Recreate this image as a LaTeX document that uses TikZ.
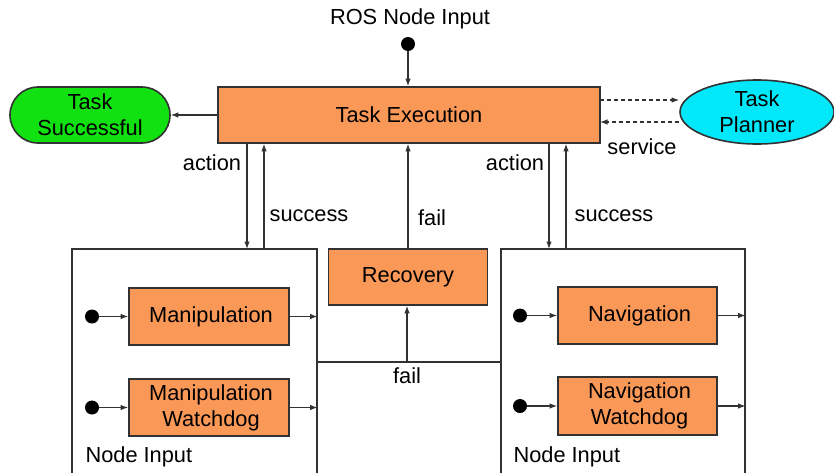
\documentclass[tikz,border=0pt]{standalone}
\usepackage{fontspec}
\setmainfont{Liberation Sans}
\usetikzlibrary{arrows.meta,shapes.geometric,calc}
\definecolor{boxorange}{RGB}{250,152,88}
\definecolor{okgreen}{RGB}{17,224,17}
\definecolor{plancyan}{RGB}{0,232,250}
\definecolor{edge}{RGB}{50,50,50}
\begin{document}
\begin{tikzpicture}[x=1pt,y=-1pt,
  every node/.style={font=\fontsize{21.8}{26}\selectfont, text=black},
  obox/.style={draw=edge, line width=1.6pt, fill=boxorange, align=center, inner sep=0pt},
  cont/.style={draw=edge, line width=1.2pt, inner sep=0pt},
  dot/.style={circle, fill=black, inner sep=0pt, minimum size=14pt},
  conn/.style={draw=edge, line width=1.2pt, -{Latex[length=7.5pt,width=5.5pt]}},
  dconn/.style={conn, dashed, dash pattern=on 4pt off 3pt},
  lbl/.style={inner sep=0pt}
]
\useasboundingbox (0,0) rectangle (834,472);

% main nodes
\node[obox, minimum width=382pt, minimum height=56pt] (te) at (409,115) {Task Execution};
\node[draw=edge, line width=1.6pt, fill=okgreen, rounded corners=28pt, align=center,
      minimum width=160pt, minimum height=56pt, inner sep=0pt] (ts) at (90,115) {Task\\Successful};
\node[ellipse, draw=edge, line width=1.6pt, fill=plancyan, align=center,
      minimum width=154pt, minimum height=64pt, inner sep=0pt] (tp) at (757,112) {Task\\Planner};
\node[obox, minimum width=159pt, minimum height=56pt] (rec) at (408,277) {Recovery};

% containers
\node[cont, minimum width=245pt, minimum height=251pt] (lbox) at (194.5,374.5) {};
\node[cont, minimum width=244pt, minimum height=251pt] (rbox) at (623,374.5) {};

% inner boxes
\node[obox, minimum width=160pt, minimum height=57pt] (man) at (209,316.5) {\hspace*{4pt}Manipulation};
\node[obox, minimum width=160pt, minimum height=57pt] (manw) at (209,407.5) {\hspace*{4pt}Manipulation\\\hspace*{4pt}Watchdog};
\node[obox, minimum width=159pt, minimum height=57pt] (nav) at (637.5,315.5) {\hspace*{4pt}Navigation};
\node[obox, minimum width=159pt, minimum height=58pt] (navw) at (637.5,406) {\hspace*{4pt}Navigation\\\hspace*{4pt}Watchdog};

% dots
\node[dot] (rosdot) at (408,44) {};
\node[dot] (d1) at (92,316.5) {};
\node[dot] (d2) at (92,407.5) {};
\node[dot] (d3) at (520,315.5) {};
\node[dot] (d4) at (520,406) {};

% texts
\node (rosin) at (410,19) {ROS Node Input};
\node[anchor=west] (ni1) at (82,457) {Node Input};
\node[anchor=west] (ni2) at (510,457) {Node Input};

% coordinates for connectors
\coordinate (la) at (247,249);
\coordinate (ls) at (264,249);
\coordinate (ra) at (549,249);
\coordinate (rs) at (566,249);
\coordinate (fj) at (407,362);
\coordinate (su) at (600,100);
\coordinate (sd) at (600,122);

% connectors
\draw[conn] (rosdot) -- (te.north -| rosdot);
\draw[conn] (te.west) -- (ts.east);
\draw[dconn] (su) -- (su -| tp.west);
\draw[dconn] (sd -| tp.west) -- (sd);

\draw[conn] (te.south -| la) -- (la);
\draw[conn] (ls) -- (te.south -| ls);
\draw[conn] (te.south -| ra) -- (ra);
\draw[conn] (rs) -- (te.south -| rs);
\draw[conn] (rec.north) -- (te.south -| rec.north);

\draw[draw=edge, line width=1.2pt] (lbox.east |- fj) -- (rbox.west |- fj);
\draw[conn] (fj) -- (rec.south -| fj);

\draw[conn] (d1) -- (man.west);
\draw[conn] (d2) -- (manw.west);
\draw[conn] (d3) -- (nav.west);
\draw[conn] (d4) -- (navw.west);
\draw[conn] (man.east) -- (man.east -| lbox.east);
\draw[conn] (manw.east) -- (manw.east -| lbox.east);
\draw[conn] (nav.east) -- (nav.east -| rbox.east);
\draw[conn] (navw.east) -- (navw.east -| rbox.east);

% labels
\node[lbl] (l1) at (212,163) {action};
\node[lbl] (l2) at (309,216) {success};
\node[lbl] (l3) at (515,163) {action};
\node[lbl] (l4) at (614,216) {success};
\node[lbl] (l5) at (432,218) {fail};
\node[lbl] (l6) at (407,376) {fail};
\node[lbl] (l7) at (642,147) {service};
\end{tikzpicture}
\end{document}
